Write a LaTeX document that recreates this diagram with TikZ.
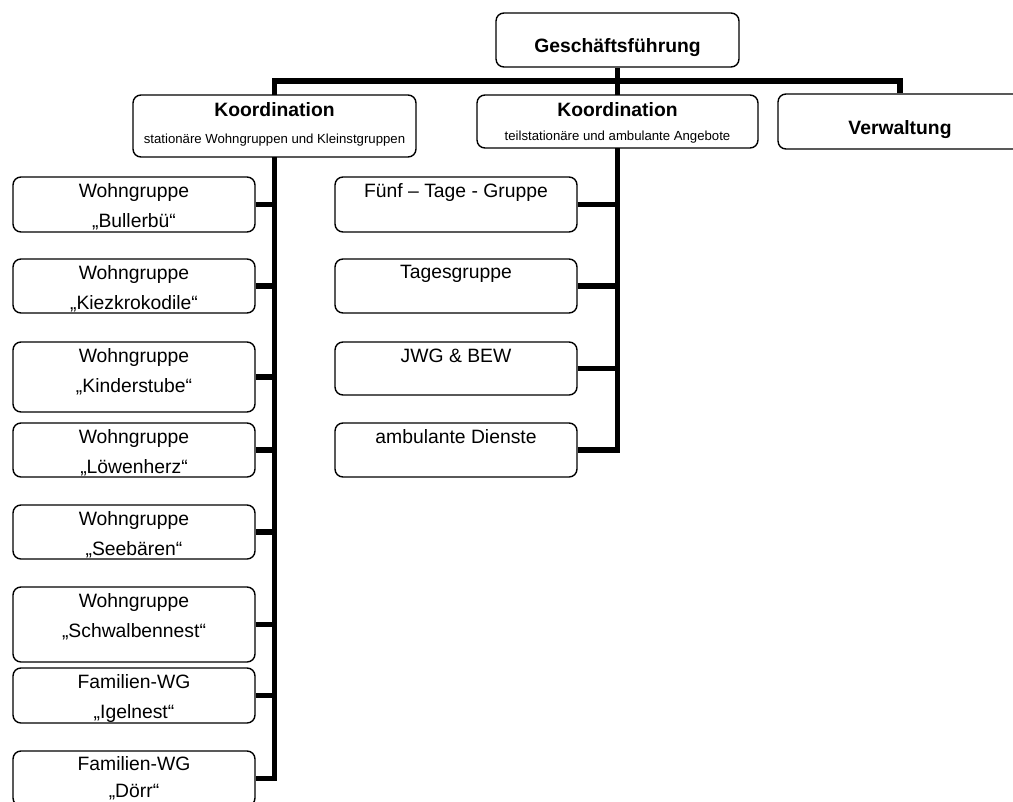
\documentclass[tikz,border=0pt]{standalone}
\usepackage{fontspec}
\setmainfont{Liberation Sans}
\usepackage{tikz}
\usetikzlibrary{positioning,backgrounds}

\tikzset{
  orgbox/.style={draw, fill=white, rounded corners=4.5pt, line width=0.8pt, inner sep=0pt},
  orgtxt/.style={align=center, inner sep=0pt, font=\fontsize{11}{17}\selectfont},
  orghead/.style={inner sep=0pt, font=\fontsize{11}{13}\selectfont\bfseries},
  orgsub/.style={inner sep=0pt, font=\fontsize{7.5}{9}\selectfont},
  conn/.style={line width=2.9pt},
}

\begin{document}
\begin{tikzpicture}[x=0.02cm, y=-0.02cm]
    \useasboundingbox (0,0) rectangle (1013,801);
    \clip (0,0) rectangle (1013,801);

    % Leitung
    \node[orgbox, minimum width=4.86cm, minimum height=1.08cm] (gf) at (617.5,40) {};
    \node[orghead, anchor=base] (gft) at (617.5,52) {Geschäftsführung};

    % Koordination und Verwaltung
    \node[orgbox, minimum width=5.66cm, minimum height=1.24cm] (kor1) at (274.5,126) {};
    \node[orghead, anchor=base] (kor1t) at (274.5,116) {Koordination};
    \node[orgsub, anchor=base] (kor1s) at (274.5,143) {stationäre Wohngruppen und Kleinstgruppen};

    \node[orgbox, minimum width=5.62cm, minimum height=1.06cm] (kor2) at (617.5,121.5) {};
    \node[orghead, anchor=base] (kor2t) at (617.5,116) {Koordination};
    \node[orgsub, anchor=base] (kor2s) at (617.5,140) {teilstationäre und ambulante Angebote};

    \node[orgbox, minimum width=4.88cm, minimum height=1.1cm] (verw) at (900,121.5) {};
    \node[orghead, anchor=base] (verwt) at (900,134) {Verwaltung};

    % stationaere Gruppen
    \node[orgbox, minimum width=4.84cm, minimum height=1.1cm] (wg1) at (134,204.5) {};
    \node[orgtxt, below=0.14cm of wg1.north] (wg1t) {Wohngruppe\\„Bullerbü“};
    \node[orgbox, minimum width=4.84cm, minimum height=1.08cm] (wg2) at (134,286) {};
    \node[orgtxt, below=0.14cm of wg2.north] (wg2t) {Wohngruppe\\„Kiezkrokodile“};
    \node[orgbox, minimum width=4.84cm, minimum height=1.4cm] (wg3) at (134,377) {};
    \node[orgtxt, below=0.14cm of wg3.north] (wg3t) {Wohngruppe\\„Kinderstube“};
    \node[orgbox, minimum width=4.84cm, minimum height=1.08cm] (wg4) at (134,450) {};
    \node[orgtxt, below=0.14cm of wg4.north] (wg4t) {Wohngruppe\\„Löwenherz“};
    \node[orgbox, minimum width=4.84cm, minimum height=1.08cm] (wg5) at (134,532) {};
    \node[orgtxt, below=0.14cm of wg5.north] (wg5t) {Wohngruppe\\„Seebären“};
    \node[orgbox, minimum width=4.84cm, minimum height=1.5cm] (wg6) at (134,624.5) {};
    \node[orgtxt, below=0.14cm of wg6.north] (wg6t) {Wohngruppe\\„Schwalbennest“};
    \node[orgbox, minimum width=4.84cm, minimum height=1.1cm] (wg7) at (134,695.5) {};
    \node[orgtxt, below=0.14cm of wg7.north] (wg7t) {Familien-WG\\„Igelnest“};
    \node[orgbox, minimum width=4.84cm, minimum height=1.1cm] (wg8) at (134,778.5) {};
    \node[orgtxt, font=\fontsize{11}{15}\selectfont, below=0.12cm of wg8.north] (wg8t) {Familien-WG\\„Dörr“};

    % teilstationaere und ambulante Angebote
    \node[orgbox, minimum width=4.84cm, minimum height=1.1cm] (ftg) at (456,204.5) {};
    \node[orgtxt, below=0.14cm of ftg.north] (ftgt) {Fünf – Tage - Gruppe};
    \node[orgbox, minimum width=4.84cm, minimum height=1.08cm] (tg) at (456,286) {};
    \node[orgtxt, below=0.14cm of tg.north] (tgt) {Tagesgruppe};
    \node[orgbox, minimum width=4.84cm, minimum height=1.06cm] (jwg) at (456,368.5) {};
    \node[orgtxt, below=0.14cm of jwg.north] (jwgt) {JWG \& BEW};
    \node[orgbox, minimum width=4.84cm, minimum height=1.08cm] (amb) at (456,450) {};
    \node[orgtxt, below=0.14cm of amb.north] (ambt) {ambulante Dienste};

    % Verbindungen
    \begin{scope}[on background layer]
        \clip (0,0) rectangle (1013,801);
        \coordinate (barL) at (274.5,81);
        \draw[conn] (verw.north) |- (barL) |- (wg8.east);
        \draw[conn] (gf.south) |- (amb.east);
        \draw[conn] (wg1.east) -- (wg1.east -| barL);
        \draw[conn] (wg2.east) -- (wg2.east -| barL);
        \draw[conn] (wg3.east) -- (wg3.east -| barL);
        \draw[conn] (wg4.east) -- (wg4.east -| barL);
        \draw[conn] (wg5.east) -- (wg5.east -| barL);
        \draw[conn] (wg6.east) -- (wg6.east -| barL);
        \draw[conn] (wg7.east) -- (wg7.east -| barL);
        \draw[conn] (ftg.east) -- (ftg.east -| gf.south);
        \draw[conn] (tg.east) -- (tg.east -| gf.south);
        \draw[conn] (jwg.east) -- (jwg.east -| gf.south);
    \end{scope}
\end{tikzpicture}
\end{document}
